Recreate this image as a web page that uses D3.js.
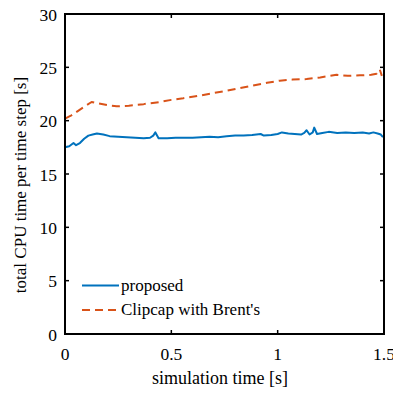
<!DOCTYPE html>
<html>
<head>
<meta charset="utf-8">
<script src="https://cdn.jsdelivr.net/npm/d3@7"></script>
<style>
  body { margin: 0; background: #fff; }
  text { font-family: "Liberation Serif", "DejaVu Serif", serif; fill: #000; }
</style>
</head>
<body>
<svg id="chart" width="393" height="393" viewBox="0 0 393 393"></svg>
<script>
// values
const proposedT = [0, 0.02, 0.04, 0.052, 0.07, 0.09, 0.11, 0.13, 0.15, 0.18, 0.21, 0.25, 0.29, 0.33, 0.37, 0.40, 0.415, 0.425, 0.44, 0.48,
  0.52, 0.56, 0.60, 0.64, 0.68, 0.72, 0.76, 0.80, 0.84, 0.88, 0.92, 0.935, 0.97, 1.00, 1.02, 1.05, 1.08, 1.11, 1.125, 1.136,
  1.15, 1.165, 1.172, 1.185, 1.21, 1.24, 1.28, 1.32, 1.36, 1.40, 1.43, 1.45, 1.47, 1.485, 1.495]
const proposedV = [17.5, 17.6, 17.9, 17.7, 17.9, 18.3, 18.6, 18.7, 18.8, 18.7, 18.55, 18.5, 18.45, 18.4, 18.35, 18.4, 18.6, 18.9, 18.35, 18.35,
  18.4, 18.4, 18.4, 18.45, 18.5, 18.45, 18.55, 18.6, 18.6, 18.65, 18.75, 18.6, 18.65, 18.75, 18.9, 18.8, 18.75, 18.7, 18.85, 19.1,
  18.7, 18.9, 19.35, 18.75, 18.85, 18.95, 18.85, 18.9, 18.85, 18.9, 18.8, 18.9, 18.8, 18.7, 18.45]

const clipcapT = [0, 0.03, 0.06, 0.09, 0.125, 0.16, 0.2, 0.243, 0.3, 0.37, 0.447, 0.5, 0.556, 0.635, 0.7, 0.76, 0.82, 0.885, 0.95, 1.01,
  1.07, 1.136, 1.2, 1.277, 1.33, 1.387, 1.44, 1.465, 1.48, 1.49]
const clipcapV = [20.2, 20.5, 20.9, 21.3, 21.75, 21.6, 21.45, 21.35, 21.4, 21.55, 21.75, 21.95, 22.1, 22.35, 22.6, 22.8, 23.05, 23.3, 23.55, 23.75,
  23.85, 23.9, 24.05, 24.3, 24.2, 24.25, 24.3, 24.4, 24.8, 24.2]

const xTicks = [0, 0.5, 1, 1.5]
const yTicks = [0, 5, 10, 15, 20, 25, 30]
const seriesNames = ["proposed", "Clipcap with Brent's"]
const seriesColors = ["#0072BD", "#D95319"]

const svg = d3.select("#chart")
const plotL = 65, plotR = 384, plotT = 14, plotB = 334

const x = d3.scaleLinear().domain([0, 1.5]).range([plotL, plotR])
const y = d3.scaleLinear().domain([0, 30]).range([plotB, plotT])

const series = [
  { name: seriesNames[0], color: seriesColors[0], dash: null, pts: proposedT.map((t, i) => [t, proposedV[i]]) },
  { name: seriesNames[1], color: seriesColors[1], dash: "8,5", pts: clipcapT.map((t, i) => [t, clipcapV[i]]) }
]

const line = d3.line().x(d => x(d[0])).y(d => y(d[1]))

svg.selectAll(".series")
  .data(series)
  .enter()
  .append("path")
  .attr("class", "series")
  .attr("d", d => line(d.pts))
  .attr("fill", "none")
  .attr("stroke", d => d.color)
  .attr("stroke-width", 2)
  .attr("stroke-dasharray", d => d.dash)
  .attr("stroke-linejoin", "round")

// inward ticks on all four sides
const tickLen = 4
const tg = svg.append("g").attr("stroke", "#000").attr("stroke-width", 1.5)
xTicks.forEach(t => {
  tg.append("line").attr("x1", x(t)).attr("x2", x(t)).attr("y1", plotB).attr("y2", plotB - tickLen)
  tg.append("line").attr("x1", x(t)).attr("x2", x(t)).attr("y1", plotT).attr("y2", plotT + tickLen)
})
yTicks.forEach(v => {
  tg.append("line").attr("x1", plotL).attr("x2", plotL + tickLen).attr("y1", y(v)).attr("y2", y(v))
  tg.append("line").attr("x1", plotR).attr("x2", plotR - tickLen).attr("y1", y(v)).attr("y2", y(v))
})

// box
svg.append("rect")
  .attr("x", plotL).attr("y", plotT)
  .attr("width", plotR - plotL).attr("height", plotB - plotT)
  .attr("fill", "none").attr("stroke", "#000").attr("stroke-width", 2)

// tick labels
svg.selectAll(".xt")
  .data(xTicks)
  .enter()
  .append("text")
  .attr("x", d => x(d))
  .attr("y", 360)
  .attr("text-anchor", "middle")
  .style("font-size", "17.5px")
  .text(d => d3.format("")(d))

svg.selectAll(".yt")
  .data(yTicks)
  .enter()
  .append("text")
  .attr("x", plotL - 8)
  .attr("y", d => y(d) + 6.5)
  .attr("text-anchor", "end")
  .style("font-size", "17.5px")
  .text(d => d)

// axis labels
svg.append("text")
  .attr("x", 220)
  .attr("y", 384)
  .attr("text-anchor", "middle")
  .style("font-size", "18px")
  .text("simulation time [s]")

svg.append("text")
  .attr("transform", "translate(26,185) rotate(-90)")
  .attr("text-anchor", "middle")
  .style("font-size", "17px")
  .text("total CPU time per time step [s]")

// legend
const legend = svg.append("g")
series.forEach((s, i) => {
  const ly = 285.5 + i * 24.5
  legend.append("line")
    .attr("x1", 82).attr("x2", 119)
    .attr("y1", ly).attr("y2", ly)
    .attr("stroke", s.color).attr("stroke-width", 2)
    .attr("stroke-dasharray", s.dash)
  legend.append("text")
    .attr("x", 121)
    .attr("y", ly + 5)
    .style("font-size", "17px")
    .text(s.name)
})
</script>
</body>
</html>
